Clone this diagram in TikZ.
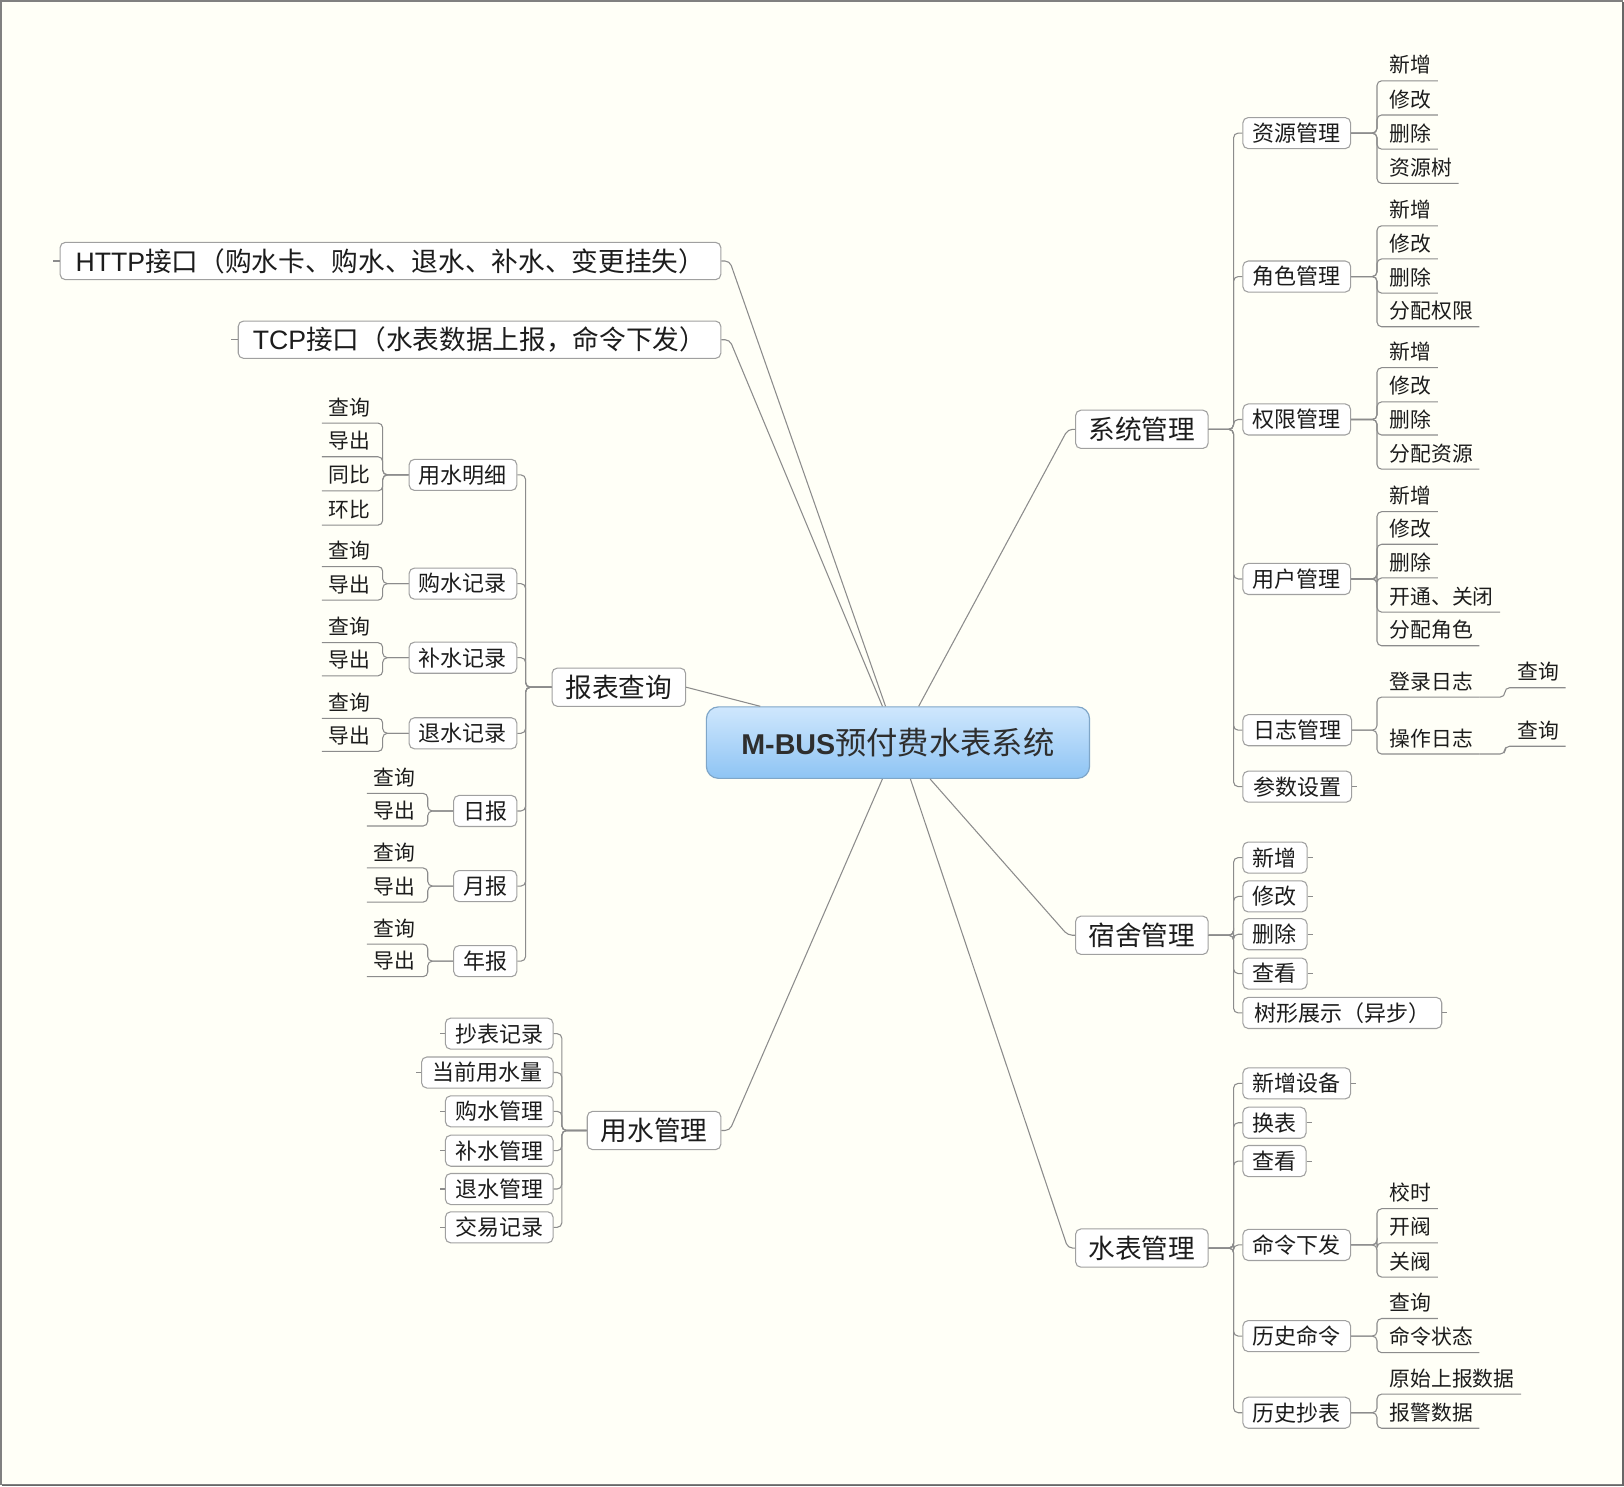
\documentclass[tikz,border=0pt]{standalone}
\usepackage{fontspec}
\setmainfont{Noto Sans CJK SC}
\newfontfamily\latf{Liberation Sans}
\usetikzlibrary{calc}
\definecolor{bgc}{HTML}{FFFFF7}
\definecolor{lnc}{HTML}{8C8C8C}
\definecolor{bdc}{HTML}{A0A0A0}
\definecolor{txc}{HTML}{1C1C1C}
\definecolor{frc}{HTML}{808080}
\definecolor{ttop}{HTML}{CFE7FD}
\definecolor{tbot}{HTML}{8EC4F4}
\definecolor{tbd}{HTML}{7FA6C8}
\newcommand\fleaf{\fontsize{15.6pt}{18pt}\selectfont}
\newcommand\fsub{\fontsize{16.5pt}{19pt}\selectfont}
\newcommand\fmain{\fontsize{20pt}{23pt}\selectfont}
\newcommand\RLeaf[5]{\node[leafR] (#2) at (#3,#4) {#5};
  \draw[conn] (#1.east) -- (#1.east -| #2.south west) -- (#2.south west) -- (#2.south east);}
\newcommand\LLeaf[5]{\node[leafL] (#2) at (#3,#4) {#5};
  \draw[conn] (#1.west) -- (#1.west -| #2.south east) -- (#2.south east) -- (#2.south west);}
\tikzset{
 conn/.style={draw=lnc, line width=0.8pt, rounded corners=3.5pt},
 stub/.style={draw=lnc, line width=0.8pt},
 box/.style={draw=bdc, line width=0.8pt, fill=white, rounded corners=4pt, inner sep=0pt, text=txc},
 mbox/.style={box, font=\fmain, minimum height=28.7pt, minimum width=#1*0.7768pt},
 sbox/.style={box, font=\fsub, minimum height=23.3pt, minimum width=#1*0.7768pt},
 leafR/.style={anchor=south west, inner sep=0pt, minimum height=23.3pt, font=\fleaf, text=txc,
   execute at begin node={\hspace*{9.3pt}}, execute at end node={\hspace*{4.7pt}}},
 leafL/.style={anchor=south east, inner sep=0pt, minimum height=23.3pt, font=\fleaf, text=txc,
   execute at begin node={\hspace*{4.7pt}}, execute at end node={\hspace*{9.3pt}}},
 titlebox/.style={draw=tbd, line width=0.9pt, rounded corners=9pt, top color=ttop, bottom color=tbot,
   minimum width=287.4pt, minimum height=53.6pt, inner sep=0pt, text=black!82,
   font=\fontsize{23.5pt}{26pt}\selectfont},
}
\begin{document}
\begin{tikzpicture}[x=0.7768pt,y=-0.7768pt]
\useasboundingbox (0,0) rectangle (1568,1435);
\fill[bgc] (0,0) rectangle (1568,1435);
\draw[frc, line width=1pt] (1,1) rectangle (1566.5,1433.5);
\draw[frc!80!black, line width=1.4pt] (1567,2) -- (1567,1434.3) -- (2,1434.3);

% title
\node[titlebox] (t) at (867,717) {{\latf\bfseries\fontsize{21.5pt}{24pt}\selectfont M-BUS}预付费水表系统};

% main branches
\node[mbox=128] (sys) at (1102.5,414.5) {系统管理};
\node[mbox=128] (dorm) at (1102.5,903) {宿舍管理};
\node[mbox=128] (meter) at (1102.5,1205) {水表管理};
\node[mbox=129] (report) at (597.5,663.5) {报表查询};
\node[mbox=129] (usage) at (631.5,1091.5) {用水管理};
\node[mbox=638, minimum height=28pt] (http) at (377,252) {{\latf\fontsize{20pt}{23pt}\selectfont HTTP}接口（购水卡、购水、退水、补水、变更挂失）};
\node[mbox=466, minimum height=28pt] (tcp) at (463,328) {{\latf\fontsize{20pt}{23pt}\selectfont TCP}接口（水表数据上报，命令下发）};

\draw[conn] ($(t.north)+(20,0)$) -- ($(sys.west)+(-7,0)$) -- (sys.west);
\draw[conn] ($(t.south)+(31,0)$) -- ($(dorm.west)+(-7,0)$) -- (dorm.west);
\draw[conn] ($(t.south)+(12,0)$) -- ($(meter.west)+(-7,0)$) -- (meter.west);
\draw[conn] ($(t.south)+(-15,0)$) -- ($(usage.east)+(8,0)$) -- (usage.east);
\draw[conn] ($(t.north)+(-133,0)$) -- (report.east);
\draw[conn] ($(t.north)+(-12,0)$) -- ($(http.east)+(8,0)$) -- (http.east);
\draw[conn] ($(t.north)+(-15,0)$) -- ($(tcp.east)+(8,0)$) -- (tcp.east);
\draw[stub] (http.west) -- ++(-6,0);
\draw[stub] (tcp.west) -- ++(-6,0);

% system management
\node[sbox=104] (s1) at (1252,128.5) {资源管理};
\node[sbox=104] (s2) at (1252,267) {角色管理};
\node[sbox=104] (s3) at (1252,405) {权限管理};
\node[sbox=104] (s4) at (1252,559) {用户管理};
\node[sbox=105] (s5) at (1252.5,705) {日志管理};
\node[sbox=105] (s6) at (1252.5,759.5) {参数设置};
\foreach \nn in {s1,s2,s3,s4,s5,s6} \draw[conn] (sys.east) -- ++(24,0) |- (\nn.west);
\draw[stub] (s6.east) -- ++(5,0);

\RLeaf{s1}{a11}{1329.5}{78}{新增}
\RLeaf{s1}{a12}{1329.5}{111}{修改}
\RLeaf{s1}{a13}{1329.5}{144}{删除}
\RLeaf{s1}{a14}{1329.5}{177}{资源树}
\RLeaf{s2}{a21}{1329.5}{218}{新增}
\RLeaf{s2}{a22}{1329.5}{250}{修改}
\RLeaf{s2}{a23}{1329.5}{283}{删除}
\RLeaf{s2}{a24}{1329.5}{315.5}{分配权限}
\RLeaf{s3}{a31}{1329.5}{355}{新增}
\RLeaf{s3}{a32}{1329.5}{388}{修改}
\RLeaf{s3}{a33}{1329.5}{420}{删除}
\RLeaf{s3}{a34}{1329.5}{453}{分配资源}
\RLeaf{s4}{a41}{1329.5}{494}{新增}
\RLeaf{s4}{a42}{1329.5}{525.5}{修改}
\RLeaf{s4}{a43}{1329.5}{558}{删除}
\RLeaf{s4}{a44}{1329.5}{591}{开通、关闭}
\RLeaf{s4}{a45}{1329.5}{623.5}{分配角色}
\RLeaf{s5}{a51}{1329.5}{673}{登录日志}
\RLeaf{s5}{a52}{1329.5}{728}{操作日志}
\node[leafR] (q51) at (1453,664) {查询};
\draw[conn] (a51.south east) -- (a51.south east -| q51.south west) -- (q51.south west) -- (q51.south east);
\node[leafR] (q52) at (1453,720.5) {查询};
\draw[conn] (a52.south east) -- (a52.south east -| q52.south west) -- (q52.south west) -- (q52.south east);

% dormitory
\node[sbox=62] (d1) at (1231,828) {新增};
\node[sbox=62] (d2) at (1231,865.5) {修改};
\node[sbox=62] (d3) at (1231,902) {删除};
\node[sbox=62] (d4) at (1231,940) {查看};
\node[sbox=192] (d5) at (1296,978) {树形展示（异步）};
\foreach \nn in {d1,d2,d3,d4,d5} {\draw[conn] (dorm.east) -- ++(24,0) |- (\nn.west); \draw[stub] (\nn.east) -- ++(5,0);}

% meter
\node[sbox=104] (m1) at (1252,1046) {新增设备};
\node[sbox=61] (m2) at (1230.5,1084) {换表};
\node[sbox=61] (m3) at (1230.5,1121) {查看};
\node[sbox=104] (m4) at (1252,1202) {命令下发};
\node[sbox=104] (m5) at (1252,1290) {历史命令};
\node[sbox=104] (m6) at (1252,1364) {历史抄表};
\foreach \nn in {m1,m2,m3,m4,m5,m6} \draw[conn] (meter.east) -- ++(24,0) |- (\nn.west);
\foreach \nn in {m1,m2,m3} \draw[stub] (\nn.east) -- ++(5,0);
\RLeaf{m4}{b41}{1329.5}{1167}{校时}
\RLeaf{m4}{b42}{1329.5}{1200}{开阀}
\RLeaf{m4}{b43}{1329.5}{1233}{关阀}
\RLeaf{m5}{b51}{1329.5}{1273}{查询}
\RLeaf{m5}{b52}{1329.5}{1306}{命令状态}
\RLeaf{m6}{b61}{1329.5}{1346}{原始上报数据}
\RLeaf{m6}{b62}{1329.5}{1379}{报警数据}

% report
\node[sbox=104] (r1) at (447,458.5) {用水明细};
\node[sbox=104] (r2) at (447,563.5) {购水记录};
\node[sbox=104] (r3) at (447,635) {补水记录};
\node[sbox=104] (r4) at (447,708) {退水记录};
\node[sbox=61] (r5) at (468.5,783) {日报};
\node[sbox=61] (r6) at (468.5,855.5) {月报};
\node[sbox=61] (r7) at (468.5,928) {年报};
\foreach \nn in {r1,r2,r3,r4,r5,r6,r7} \draw[conn] (report.west) -- ++(-25,0) |- (\nn.east);
\LLeaf{r1}{c11}{369.5}{408.5}{查询}
\LLeaf{r1}{c12}{369.5}{441}{导出}
\LLeaf{r1}{c13}{369.5}{474}{同比}
\LLeaf{r1}{c14}{369.5}{507}{环比}
\LLeaf{r2}{c21}{369.5}{547}{查询}
\LLeaf{r2}{c22}{369.5}{579.5}{导出}
\LLeaf{r3}{c31}{369.5}{620.5}{查询}
\LLeaf{r3}{c32}{369.5}{652.5}{导出}
\LLeaf{r4}{c41}{369.5}{693.5}{查询}
\LLeaf{r4}{c42}{369.5}{725.5}{导出}
\LLeaf{r5}{c51}{413}{766}{查询}
\LLeaf{r5}{c52}{413}{797.5}{导出}
\LLeaf{r6}{c61}{413}{838}{查询}
\LLeaf{r6}{c62}{413}{871}{导出}
\LLeaf{r7}{c71}{413}{911.5}{查询}
\LLeaf{r7}{c72}{413}{943}{导出}

% water usage
\node[sbox=104] (u1) at (482,998) {抄表记录};
\node[sbox=127] (u2) at (470.5,1035.5) {当前用水量};
\node[sbox=104] (u3) at (482,1073) {购水管理};
\node[sbox=104] (u4) at (482,1111) {补水管理};
\node[sbox=104] (u5) at (482,1148) {退水管理};
\node[sbox=104] (u6) at (482,1185) {交易记录};
\foreach \nn in {u1,u2,u3,u4,u5,u6} {\draw[conn] (usage.west) -- ++(-24,0) |- (\nn.east); \draw[stub] (\nn.west) -- ++(-5,0);}
\end{tikzpicture}
\end{document}
